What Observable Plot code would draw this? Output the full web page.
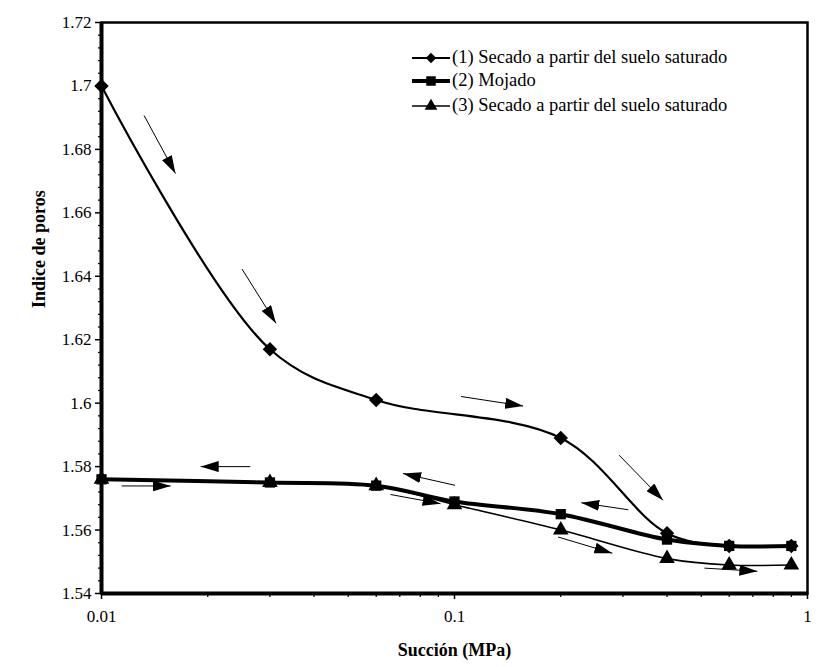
<!DOCTYPE html>
<html><head><meta charset="utf-8">
<script src="https://cdn.jsdelivr.net/npm/d3@7"></script>
<script src="https://cdn.jsdelivr.net/npm/@observablehq/plot@0.6"></script>
<style>
body{margin:0;background:#fff;}
#wrap{position:relative;width:819px;height:667px;}
#legend{position:absolute;left:0;top:0;font-family:"Liberation Serif","Times New Roman",serif;font-size:18.5px;color:#000;}
#legend .sw{position:absolute;}
#legend .lbl{position:absolute;white-space:nowrap;line-height:20px;}
</style></head><body>
<div id="wrap"><div id="chart"></div><div id="legend"></div></div>
<script>
// Series data (suction in MPa, void ratio)
const suction1 = [0.01, 0.03, 0.06, 0.2, 0.4, 0.6, 0.9];
const poros1   = [1.700, 1.617, 1.601, 1.589, 1.559, 1.555, 1.555];
const suction2 = [0.01, 0.03, 0.06, 0.1, 0.2, 0.4, 0.6, 0.9];
const poros2   = [1.576, 1.575, 1.574, 1.569, 1.565, 1.557, 1.555, 1.555];
const suction3 = [0.01, 0.03, 0.06, 0.1, 0.2, 0.4, 0.6, 0.9];
const poros3   = [1.576, 1.575, 1.574, 1.568, 1.560, 1.551, 1.549, 1.549];
const seriesNames = ["(1) Secado a partir del suelo saturado", "(2) Mojado", "(3) Secado a partir del suelo saturado"];

// Direction arrows (data coordinates: tail -> head)
const arrowX1 = [0.0132, 0.0250, 0.1044, 0.2927, 0.1004, 0.3107, 0.0659, 0.1966, 0.5106, 0.0264, 0.0114];
const arrowY1 = [1.6907, 1.6423, 1.6021, 1.5836, 1.5741, 1.5664, 1.5712, 1.5578, 1.5480, 1.5800, 1.5739];
const arrowX2 = [0.0162, 0.0312, 0.1565, 0.3897, 0.0715, 0.2286, 0.0913, 0.2800, 0.7210, 0.0191, 0.0157];
const arrowY2 = [1.6724, 1.6252, 1.5991, 1.5694, 1.5778, 1.5686, 1.5683, 1.5527, 1.5470, 1.5800, 1.5739];

// Axis ticks
const xTicks = [0.01, 0.1, 1];
const xTickLabels = ["0.01", "0.1", "1"];
const xMinor = [0.02,0.03,0.04,0.05,0.06,0.07,0.08,0.09,0.2,0.3,0.4,0.5,0.6,0.7,0.8,0.9];
const yTicks = [1.54, 1.56, 1.58, 1.6, 1.62, 1.64, 1.66, 1.68, 1.7, 1.72];
const yTickLabels = ["1.54", "1.56", "1.58", "1.6", "1.62", "1.64", "1.66", "1.68", "1.7", "1.72"];
const yMinor = d3.range(0, 46).map(i => +(1.54 + i * 0.004).toFixed(3)).filter(v => !yTicks.some(t => Math.abs(t - v) < 1e-6));

const s1 = suction1.map((x, i) => ({x, y: poros1[i]}));
const s2 = suction2.map((x, i) => ({x, y: poros2[i]}));
const s3 = suction3.map((x, i) => ({x, y: poros3[i]}));
const arrows = arrowX1.map((x1, i) => ({x1, y1: arrowY1[i], x2: arrowX2[i], y2: arrowY2[i]}));

const font = "Liberation Serif, Times New Roman, serif";

const chart = Plot.plot({
  width: 819, height: 667,
  marginLeft: 101, marginRight: 12, marginTop: 22, marginBottom: 74,
  style: {fontFamily: font, background: "#fff", color: "#000"},
  x: {type: "log", domain: [0.01, 1], label: null},
  y: {domain: [1.54, 1.72], label: null},
  marks: [
    Plot.axisX(xMinor, {tickSize: 4, tickFormat: () => "", strokeWidth: 1.2}),
    Plot.axisX(xTicks, {tickSize: 6, tickFormat: d => xTickLabels[xTicks.indexOf(d)], fontSize: 17, tickPadding: 10, strokeWidth: 1.5}),
    Plot.axisY(yMinor, {tickSize: 3, tickFormat: () => "", strokeWidth: 1.2}),
    Plot.axisY(yTicks, {tickSize: 6, tickFormat: d => yTickLabels[yTicks.findIndex(t => Math.abs(t - d) < 1e-9)], fontSize: 17, tickPadding: 4, strokeWidth: 1.5}),
    Plot.line(s3, {x: "x", y: "y", curve: "catmull-rom", stroke: "#000", strokeWidth: 1.6}),
    Plot.line(s2, {x: "x", y: "y", curve: "catmull-rom", stroke: "#000", strokeWidth: 4}),
    Plot.line(s1, {x: "x", y: "y", curve: "catmull-rom", stroke: "#000", strokeWidth: 2.2}),
    Plot.dot(s3, {x: "x", y: "y", symbol: "triangle", r: 5.8, fill: "#000"}),
    Plot.dot(s2, {x: "x", y: "y", symbol: "square", r: 5.8, fill: "#000"}),
    Plot.dot(s1, {x: "x", y: "y", symbol: "diamond2", r: 6.5, fill: "#000"}),
    Plot.link(arrows, {x1: "x1", y1: "y1", x2: "x2", y2: "y2", stroke: "#000", strokeWidth: 1}),
    Plot.frame({stroke: "#000", strokeWidth: 2.5}),
    Plot.ruleX([0.01], {stroke: "#000", strokeWidth: 4}),
    Plot.ruleY([1.54], {stroke: "#000", strokeWidth: 4}),
    Plot.text(["Succión (MPa)"], {frameAnchor: "bottom", dy: 62, fontWeight: "bold", fontSize: 18, fill: "#000"}),
    Plot.text(["Indice de poros"], {frameAnchor: "left", dx: -62, rotate: -90, fontWeight: "bold", fontSize: 18, fill: "#000"})
  ]
});

// filled arrowheads
const svg = d3.select(chart);
const defs = svg.insert("defs", ":first-child");
defs.append("marker")
  .attr("id", "ah").attr("viewBox", "0 0 18 11").attr("refX", 18).attr("refY", 5.5)
  .attr("markerWidth", 18).attr("markerHeight", 11).attr("markerUnits", "userSpaceOnUse").attr("orient", "auto")
  .append("path").attr("d", "M0,0L18,5.5L0,11Z").attr("fill", "#000");
svg.selectAll('g[aria-label="link"] path').attr("marker-end", "url(#ah)");

document.getElementById("chart").appendChild(chart);

// legend (inside the plot, top right)
const legend = d3.select("#legend");
const styles = [{w: 2.2, sym: d3.symbolDiamond2, s: 70}, {w: 4, sym: d3.symbolSquare, s: 90}, {w: 1.6, sym: d3.symbolTriangle, s: 70}];
const rowY = [58, 81, 106];
seriesNames.forEach((name, i) => {
  const sw = legend.append("svg").attr("class", "sw").attr("width", 40).attr("height", 16)
    .style("left", "411px").style("top", (rowY[i] - 8) + "px");
  sw.append("line").attr("x1", 1).attr("x2", 39).attr("y1", 8).attr("y2", 8).attr("stroke", "#000").attr("stroke-width", styles[i].w);
  sw.append("path").attr("transform", "translate(20,8)").attr("d", d3.symbol(styles[i].sym, styles[i].s)()).attr("fill", "#000");
  legend.append("div").attr("class", "lbl").text(name)
    .style("left", "452px").style("top", (rowY[i] - 11) + "px");
});
</script>
</body></html>
